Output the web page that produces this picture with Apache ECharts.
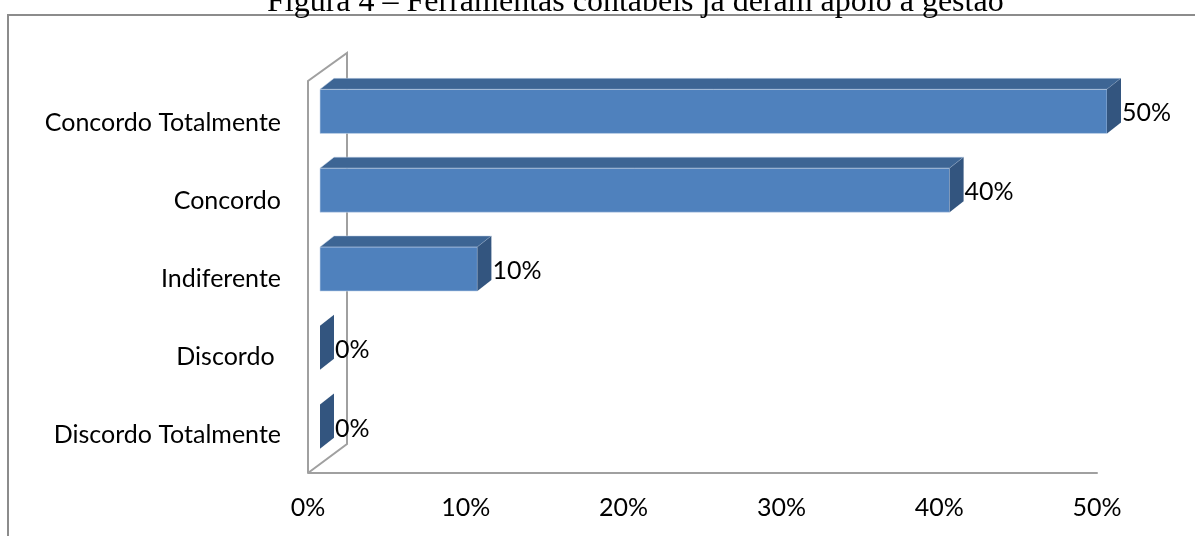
<!DOCTYPE html>
<html>
<head>
<meta charset="utf-8">
<script src="https://cdn.jsdelivr.net/npm/echarts@6/dist/echarts.min.js"></script>
<style>html,body{margin:0;padding:0;background:#fff;}#c{width:1195px;height:536px;}</style>
</head>
<body>
<div id="c"></div>
<script>
const titleText = 'Figura 4 – Ferramentas contábeis já deram apoio à gestão';
const categories = ['Concordo Totalmente', 'Concordo', 'Indiferente', 'Discordo ', 'Discordo Totalmente'];
const values = [50, 40, 10, 0, 0];
const xTicks = [0, 10, 20, 30, 40, 50];

const FONT = 'Lato';
const FS = 25;
const chart = echarts.init(document.getElementById('c'), null, {renderer: 'canvas'});
const DX = 14, DY = -11;

function renderBar(params, api) {
  const v = api.value(0);
  const cat = api.value(1);
  const p0 = api.coord([0, cat]);
  const p1 = api.coord([v, cat]);
  const band = api.size([0, 1])[1];
  const h = band * 0.56;
  const x0 = p0[0], x1 = p1[0], yc = p0[1];
  const top = yc - h / 2, bot = yc + h / 2;
  const children = [];
  if (x1 - x0 > 0.5) {
    children.push({type: 'rect', shape: {x: x0, y: top, width: x1 - x0, height: h},
      style: {fill: '#4F81BD', stroke: 'rgba(200,215,235,0.6)', lineWidth: 1}});
    children.push({type: 'polygon', shape: {points: [[x0, top], [x0 + DX, top + DY], [x1 + DX, top + DY], [x1, top]]},
      style: {fill: '#3D6594', stroke: 'rgba(200,215,235,0.5)', lineWidth: 1}});
  }
  children.push({type: 'polygon', shape: {points: [[x1, top], [x1 + DX, top + DY], [x1 + DX, bot + DY], [x1, bot]]},
    style: {fill: '#33557F'}});
  children.push({type: 'text', x: x1 + DX + 1, y: yc + 2,
    style: {text: v + '%', fill: '#000', font: FS + 'px ' + FONT, align: 'left', verticalAlign: 'middle'}});
  return {type: 'group', children: children};
}

const option = {
  animation: false,
  backgroundColor: '#fff',
  title: {text: titleText, left: 262, top: -18,
    textStyle: {fontFamily: 'Liberation Serif', fontSize: 32, fontWeight: 'normal', color: '#000'}},
  graphic: [
    {type: 'polyline', z: 0, shape: {points: [[8, 600], [8, 15], [1300, 15]]}, style: {stroke: '#8c8c8c', lineWidth: 2, fill: null}},
    {type: 'polyline', z: 0, shape: {points: [[308, 473], [308, 81], [347, 53], [347, 444], [308, 473]]}, style: {stroke: '#a0a0a0', lineWidth: 2, fill: null}}
  ],
  grid: [
    {left: 320, right: 88, top: 72, height: 394},
    {left: 308, right: 98, bottom: 63, height: 300},
    {left: 308, right: 98, top: 84, height: 390}
  ],
  xAxis: [
    {gridIndex: 0, type: 'value', min: 0, max: 50, show: false},
    {gridIndex: 1, type: 'value', min: 0, max: 50, interval: 10,
      axisLine: {show: true, lineStyle: {color: '#a0a0a0', width: 2}},
      axisTick: {show: false}, splitLine: {show: false},
      axisLabel: {margin: 22, color: '#000', fontFamily: FONT, fontSize: FS,
        formatter: v => xTicks.includes(v) ? v + '%' : ''}},
    {gridIndex: 2, type: 'value', min: 0, max: 50, show: false}
  ],
  yAxis: [
    {gridIndex: 0, type: 'category', data: categories, inverse: true, show: false},
    {gridIndex: 1, type: 'category', data: categories, inverse: true, show: false},
    {gridIndex: 2, type: 'category', data: categories, inverse: true,
      axisLine: {show: false}, axisTick: {show: false}, splitLine: {show: false},
      axisLabel: {margin: 27, color: '#000', fontFamily: FONT, fontSize: FS}}
  ],
  series: [{
    type: 'custom', xAxisIndex: 0, yAxisIndex: 0, z: 5,
    renderItem: renderBar,
    data: values.map((v, i) => [v, i])
  }]
};
chart.setOption(option);
</script>
</body>
</html>
